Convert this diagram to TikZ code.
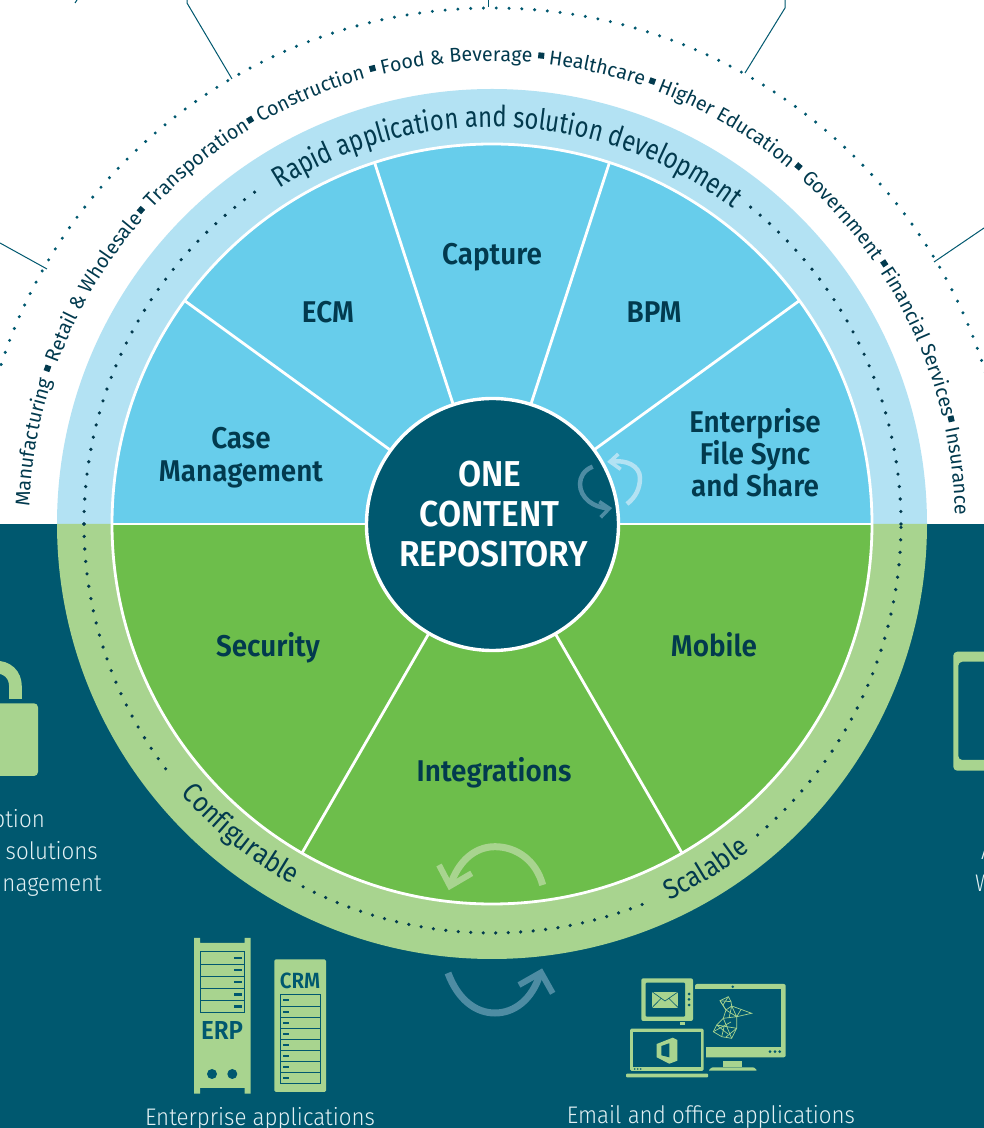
\documentclass[tikz,border=0pt]{standalone}
\usepackage{fontspec}
\usetikzlibrary{decorations.text}
\newfontfamily\lightf{Fira Sans Light}[FakeStretch=0.93]
\newfontfamily\bookf{Fira Sans}[FakeStretch=0.98]
\newfontfamily\bookringf{Fira Sans}[FakeStretch=0.89]
\newfontfamily\bookrapidf{Fira Sans}[FakeStretch=0.82]
\newfontfamily\semif{Fira Sans SemiBold}[FakeStretch=0.93]
\definecolor{teal}{HTML}{00586F}
\definecolor{ringblue}{HTML}{B3E2F3}
\definecolor{secblue}{HTML}{67CDEB}
\definecolor{ringgreen}{HTML}{A8D48F}
\definecolor{secgreen}{HTML}{6DBE4B}
\definecolor{inkdark}{HTML}{023A4E}
\definecolor{arrowblue}{HTML}{4E8CA3}
\definecolor{paletext}{HTML}{E3F1F4}
\newcommand{\outerfont}{\bookf\fontsize{20}{24}\selectfont}
\newcommand{\ringfont}{\bookringf\fontsize{28}{32}\selectfont}
\newcommand{\rapidfont}{\bookrapidf\fontsize{29}{34}\selectfont}
% radius, centre angle, half-extent of carrier arc, font, text (clockwise)
\newcommand{\arctxt}[5]{\path[decorate,decoration={text along path,text align=center,text color=inkdark,text={|#4|#5}}] (#2+#3:#1) arc[start angle=#2+#3,end angle=#2-#3,radius=#1];}
% same, counter-clockwise (bottom of the ring)
\newcommand{\arctxtccw}[5]{\path[decorate,decoration={text along path,text align=center,text color=inkdark,text={|#4|#5}}] (#2-#3:#1) arc[start angle=#2-#3,end angle=#2+#3,radius=#1];}
\tikzset{
  px/.style={x=1pt,y=-1pt,yshift=1128pt},
  seclabel/.style={font=\semif\fontsize{30}{34}\selectfont,text=inkdark,align=center,inner sep=0pt,anchor=base},
  hublabel/.style={font=\semif\fontsize{36}{40}\selectfont,text=white,align=center,inner sep=0pt,anchor=base},
  caption/.style={font=\lightf\fontsize{24}{32}\selectfont,text=paletext,inner sep=0pt},
  iconlabel/.style={font=\semif\fontsize{26}{28}\selectfont,text=teal,inner sep=0pt},
  spoke/.style={draw=white,line width=2.8pt},
  innerdots/.style={draw=inkdark,line width=3.6pt,line cap=round,dash pattern=on 0pt off 12.5pt},
  outerdots/.style={draw=teal,line width=3.4pt,line cap=round,dash pattern=on 0pt off 12.8pt},
  leader/.style={draw=teal,line width=1pt},
  sq/.style={fill=inkdark,minimum size=6pt,inner sep=0pt,shape=rectangle},
  slat/.style={draw=teal,line width=1pt},
  dash1/.style={fill=teal},
  iconfill/.style={fill=ringgreen},
  mesh/.style={draw=ringgreen,line width=0.7pt},
}
\begin{document}
\begin{tikzpicture}[x=1pt,y=1pt]
\useasboundingbox (0,0) rectangle (984,1128);
\clip (0,0) rectangle (984,1128);
\fill[white] (0,0) rectangle (984,1128);
\fill[teal] (0,0) rectangle (984,604);
\begin{scope}[shift={(492,604)}]
  % outer dots
  \draw[outerdots] (0:516) arc[start angle=0,end angle=180,radius=516];
  % rings
  \fill[ringblue] (0:435) arc[start angle=0,end angle=180,radius=435] -- cycle;
  \fill[ringgreen] (180:435) arc[start angle=180,end angle=360,radius=435] -- cycle;
  % sectors
  \fill[secblue] (0:380) arc[start angle=0,end angle=180,radius=380] -- cycle;
  \fill[secgreen] (180:380) arc[start angle=180,end angle=360,radius=380] -- cycle;
  \draw[spoke] (0,0) circle[radius=380];
  \draw[spoke] (180:380) -- (0:380);
  \foreach \a in {36,72,108,144,240,300} \draw[spoke] (0,0) -- (\a:380);
  % inner dots
  \draw[innerdots] (180:408) arc[start angle=180,end angle=125,radius=408];
  \draw[innerdots] (0:409) arc[start angle=0,end angle=51,radius=409];
  \draw[innerdots] (180:408) arc[start angle=180,end angle=218,radius=408];
  \draw[innerdots] (242.5:409) arc[start angle=242.5,end angle=292,radius=409];
  \draw[innerdots] (310.5:409) arc[start angle=310.5,end angle=360,radius=409];
  % ring texts
  \arctxt{397}{87.5}{42}{\rapidfont}{Rapid application and solution development}
  \arctxtccw{412}{231}{16}{\ringfont}{Configurable}
  \arctxtccw{416}{301.8}{12}{\ringfont}{Scalable}
  % outer texts
  \arctxt{463}{169.9}{12}{\outerfont}{Manufacturing}
  \arctxt{463}{149.3}{14}{\outerfont}{Retail {\&} Wholesale}
  \arctxt{463}{129.3}{12}{\outerfont}{Transporation}
  \arctxt{463}{112.9}{11}{\outerfont}{Construction}
  \arctxt{463}{94.4}{14}{\outerfont}{Food {\&} Beverage}
  \arctxt{463}{77}{10}{\outerfont}{Healthcare}
  \arctxt{463}{59.65}{14}{\outerfont}{Higher Education}
  \arctxt{463}{41.3}{11}{\outerfont}{Government}
  \arctxt{463}{23.15}{14}{\outerfont}{Financial Services}
  \arctxt{463}{6.5}{6.4}{\outerfont}{Insurance}
  \foreach \a/\n in {160.7/a,138.2/b,120.9/c,104.7/d,84/e,70.1/f,49.4/g,33.6/h,12.9/i}
    \node[sq,rotate=\a] (sq\n) at (\a:471) {};
\end{scope}
\begin{scope}[px]
  % leaders
  \draw[leader] (47,269) -- (0,243);
  \draw[leader] (232,79) -- (187,3) -- (187,0);
  \draw[leader] (488,7) -- (488,0);
  \draw[leader] (745,73) -- (785,8) -- (785,0);
  \draw[leader] (934,262) -- (984,228);
  \draw[leader] (75,3) -- (77,0);
  % hub
  \fill[teal,draw=white,line width=3.4pt] (492.5,524.5) circle[radius=126];
  % cycle arrows by the hub
  \begin{scope}[line width=4.5pt]
    \draw[ringblue] (627,504) .. controls (636,497) and (640,488) .. (640,478) .. controls (640,466) and (626,459) .. (611,462);
    \draw[ringblue,line width=3.6pt,miter limit=5] (618.3,454) -- (610,461.7) -- (620.7,469.3);
    \draw[arrowblue] (592.7,466.7) .. controls (584,470) and (580,477) .. (580,484) .. controls (580,498) and (594,508) .. (608,508);
    \draw[arrowblue,line width=3.6pt] (599.3,501.7) -- (609.3,508.3) -- (600.7,517.3);
  \end{scope}
  % hub text
  \node[hublabel] (one) at (490,486.5) {ONE};
  \node[hublabel] (content) at (489.5,526.5) {CONTENT};
  \node[hublabel] (repo) at (493.5,566.5) {REPOSITORY};
  % sector labels
  \node[seclabel] (capture) at (492,265) {Capture};
  \node[seclabel] (ecm) at (328,323) {ECM};
  \node[seclabel] (bpm) at (654,323) {BPM};
  \node[seclabel] (case1) at (241,449) {Case};
  \node[seclabel] (case2) at (241,482) {Management};
  \node[seclabel] (efss1) at (755,433) {Enterprise};
  \node[seclabel] (efss2) at (755,465) {File Sync};
  \node[seclabel] (efss3) at (755,497) {and Share};
  \node[seclabel] (security) at (268,657) {Security};
  \node[seclabel] (mobile) at (714,657) {Mobile};
  \node[seclabel] (integrations) at (494,782) {Integrations};
  % arrow in green sector
  \draw[ringgreen,line width=7pt] (542.7,885) .. controls (536,860) and (516,846.7) .. (495,846.7) .. controls (474,846.7) and (458,862) .. (450,886);
  \draw[ringgreen,line width=6pt] (439,865) -- (450,886) -- (471.7,873.3);
  % arrow under disk
  \draw[arrowblue,line width=7pt] (448,973) .. controls (458,1000) and (476,1013) .. (495,1013) .. controls (514,1013) and (532,1000) .. (540,974);
  \draw[arrowblue,line width=6pt] (519,985) -- (541,972.5) -- (552.7,993.3);
  % lock
  \fill[iconfill,rounded corners=4pt] (-10,703.3) rectangle (38,776);
  \draw[ringgreen,line width=12.7pt] (15.5,699) -- (15.5,687) .. controls (15.5,674) and (7,667) .. (-5,667);
  % tablet
  \fill[iconfill,rounded corners=4pt,even odd rule] (953.3,651.7) rectangle (1000,770.7) (958.3,661.7) rectangle (1000,760);
  % partial captions
  \node[caption,anchor=base east] (cap1) at (45,828) {ption};
  \node[caption,anchor=base east] (cap2) at (98,860) {solutions};
  \node[caption,anchor=base east] (cap3) at (102,892) {nagement};
  \node[caption,anchor=base west] (cap4) at (981,860) {A};
  \node[caption,anchor=base west] (cap5) at (975,892) {W};
  % ERP server
  \fill[iconfill] (194,938) -- (200,938) -- (200,943) -- (244.5,943) -- (244.5,938) -- (250.7,938) -- (250.7,1093.7) -- (244.5,1093.7) -- (244.5,1088) -- (200,1088) -- (200,1093.7) -- (194,1093.7) -- cycle;
  \draw[slat] (200.3,952) rectangle (244.5,1012.7);
  \foreach \i in {1,2,3,4} \draw[slat] (200.3,952+12.14*\i) -- (244.5,952+12.14*\i);
  \foreach \i in {0,...,4} \fill[dash1] (234,958+12.14*\i-1.1) rectangle (241.5,958+12.14*\i+1.1);
  \node[iconlabel] (erp) at (222,1031) {ERP};
  \fill[teal] (212,1074) circle[radius=5];
  \fill[teal] (232.3,1074) circle[radius=5];
  % CRM server
  \fill[iconfill,rounded corners=1.5pt] (274.3,959.3) rectangle (326,1092);
  \node[iconlabel,font=\semif\fontsize{22}{26}\selectfont] (crm) at (300,981) {CRM};
  \draw[slat] (280.5,995) rectangle (320.7,1083.3);
  \foreach \i in {1,...,7} \draw[slat] (280.5,995+11.04*\i) -- (320.7,995+11.04*\i);
  \foreach \i in {0,...,7} \fill[dash1] (282.7,1000.5+11.04*\i-1) rectangle (289.3,1000.5+11.04*\i+1);
  \node[caption] (entapps) at (260,1118.5) {Enterprise applications};
  % big monitor
  \fill[iconfill,rounded corners=2pt] (695,984) rectangle (785.7,1057.3);
  \fill[teal] (690,988.7) rectangle (781.3,1046.7);
  \fill[teal] (690,1046) rectangle (705.7,1060);
  \fill[teal] (732.7,986.7) circle[radius=1.4];
  \foreach \x in {770,775,779.7} \fill[teal] (\x,1051.7) circle[radius=1.5];
  \fill[iconfill] (723.3,1060.7) rectangle (742.3,1067.3);
  \fill[iconfill,rounded corners=1pt] (708.3,1070.7) -- (712,1067.3) -- (754,1067.3) -- (757.3,1070.7) -- cycle;
  % sharepoint mesh
  \draw[mesh] (720,1000.7) -- (728.3,996.7) -- (731,1001.7) -- (731.7,1006) -- (751.7,1013.3) -- (736.7,1016.7) -- (736.7,1028.3) -- (731.7,1038.3) -- (721.7,1036.7) -- (713.3,1031.7) -- (716.7,1025) -- (723.3,1018.3) -- (726,1010) -- cycle;
  \draw[mesh] (726,1010) -- (731.7,1006) -- (736.7,1016.7) -- (723.3,1018.3) (731,1001.7) -- (720,1000.7) (736.7,1016.7) -- (741,1009.5) (726,1010) -- (736.7,1016.7) (723.3,1018.3) -- (731.7,1038.3) (716.7,1025) -- (736.7,1028.3) (713.3,1031.7) -- (731,1022) (721.7,1036.7) -- (724,1027) (720,1000.7) -- (726,1010) (728.3,996.7) -- (723,1005) (731.7,1006) -- (729,1018) (716.7,1025) -- (728,1034) (736.7,1028.3) -- (726,1037);
  % small monitor
  \fill[iconfill,rounded corners=2pt] (641.3,978.3) rectangle (693,1021);
  \fill[teal,rounded corners=1pt] (645.7,982.7) rectangle (685,1016.7);
  \fill[iconfill] (652,991.7) rectangle (678.3,1007.7);
  \draw[teal,line width=0.6pt] (652,991.7) -- (665,1001) -- (678.3,991.7) (652,1007.7) -- (661,998.5) (678.3,1007.7) -- (669,998.5);
  \foreach \y in {994,999.3,1005} \fill[teal] (689,\y) circle[radius=1.5];
  \fill[iconfill] (680,1021.7) rectangle (685,1027);
  % laptop
  \fill[teal] (627,1025.5) rectangle (706,1079);
  \fill[iconfill,rounded corners=1.5pt] (630,1028.7) rectangle (703.7,1071);
  \fill[teal] (633.3,1032.3) rectangle (701,1066.7);
  \fill[iconfill,rounded corners=0.8pt] (626,1073.7) rectangle (708,1077.3);
  \foreach \x in {634.7,637.7,640.7} \fill[teal] (\x,1069) circle[radius=0.9];
  \fill[iconfill] (656.7,1044) -- (672.7,1037.7) -- (677.3,1040) -- (677.3,1060.7) -- (669.3,1063.7) -- (656.7,1057.3) -- cycle;
  \fill[teal] (661.3,1046) -- (669.3,1043.3) -- (669.3,1057.3) -- (661.3,1055.3) -- cycle;
  \node[caption] (mailapps) at (711,1116.5) {Email and office applications};
\end{scope}
\end{tikzpicture}
\end{document}
